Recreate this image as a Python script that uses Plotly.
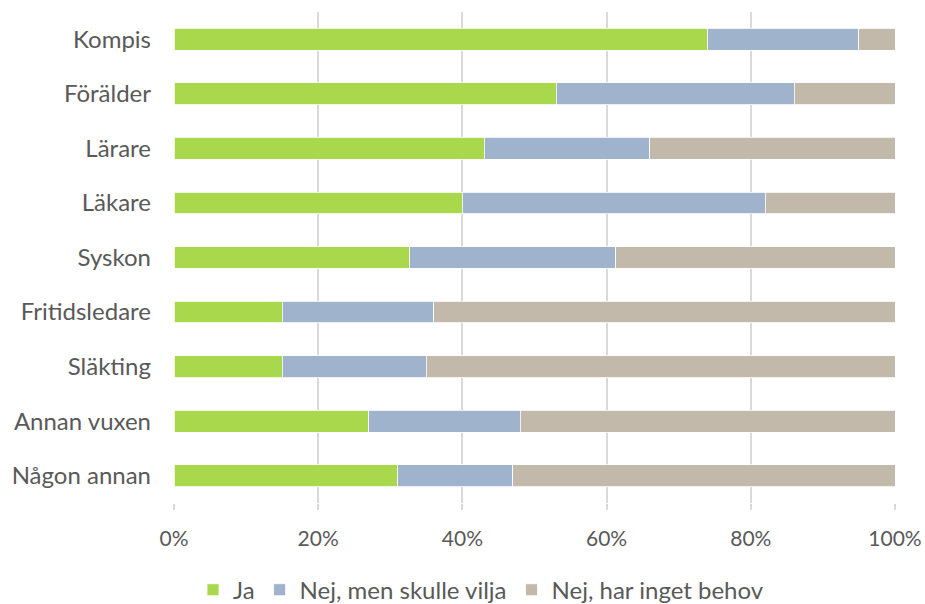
import plotly.graph_objects as go

categories = ["Kompis", "Förälder", "Lärare", "Läkare", "Syskon",
              "Fritidsledare", "Släkting", "Annan vuxen", "Någon annan"]
ja = [74, 53, 43, 40, 32.7, 15, 15, 27, 31]
nej_vilja = [21, 33, 23, 42, 28.6, 21, 20, 21, 16]
nej_behov = [5, 14, 34, 18, 38.7, 64, 65, 52, 53]

series = [
    ("Ja", ja, "#a9d84c"),
    ("Nej, men skulle vilja", nej_vilja, "#9fb3cc"),
    ("Nej, har inget behov", nej_behov, "#c2b9aa"),
]

fig = go.Figure()
for name, vals, color in series:
    fig.add_trace(go.Bar(
        y=categories, x=vals, name=name, orientation="h",
        marker=dict(color=color, line=dict(color="#ffffff", width=0.8)),
    ))

font_family = "Lato, Open Sans, sans-serif"
fig.update_layout(
    barmode="stack",
    bargap=0.6,
    width=925, height=604,
    margin=dict(l=174, r=30, t=12, b=101, autoexpand=False),
    plot_bgcolor="white", paper_bgcolor="white",
    font=dict(family=font_family, size=24, color="#595959"),
    xaxis=dict(
        range=[0, 100], tickvals=[0, 20, 40, 60, 80, 100],
        ticktext=["0%", "20%", "40%", "60%", "80%", "100%"],
        showgrid=True, gridcolor="#d9d9d9", gridwidth=2,
        zeroline=False, ticks="outside", ticklen=6, tickcolor="#d9d9d9",
        tickwidth=2, showline=False, tickfont=dict(size=21),
        ticklabelstandoff=11, automargin=False,
    ),
    yaxis=dict(
        categoryorder="array", categoryarray=categories[::-1],
        showgrid=False, zeroline=False, ticks="", ticklabelstandoff=22,
        tickfont=dict(size=24), automargin=False,
    ),
    legend=dict(
        orientation="h", xref="container", yref="container",
        x=0.52, xanchor="center", y=0.023, yanchor="middle",
        font=dict(size=24), traceorder="normal", itemwidth=30,
    ),
)

fig.write_html("out.html")
